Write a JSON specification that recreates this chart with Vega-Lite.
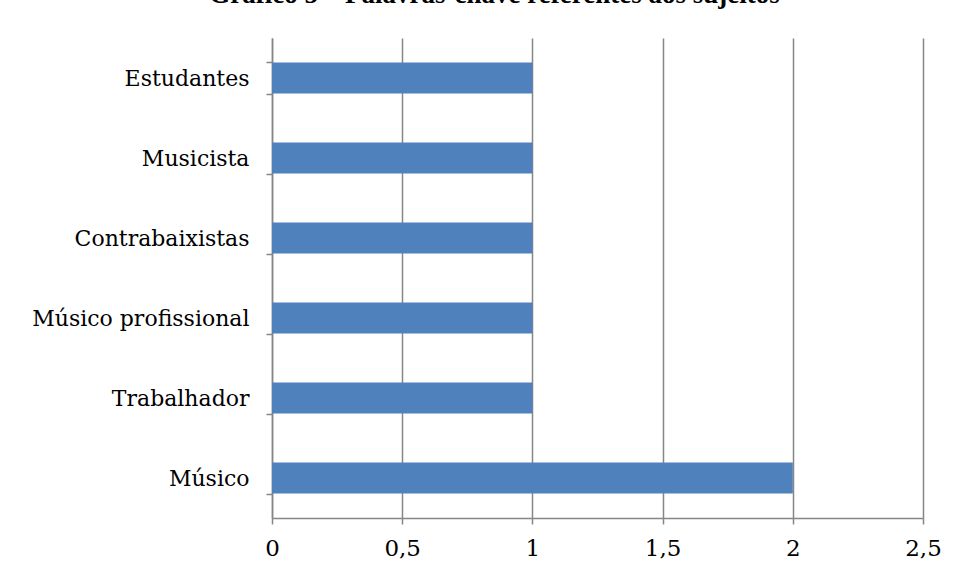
{
  "$schema": "https://vega.github.io/schema/vega-lite/v6.json",
  "autosize": {"type": "none"},
  "padding": {"left": 272, "top": 38, "right": 33, "bottom": 61},
  "width": 651,
  "height": 480,
  "background": "white",
  "title": {
    "text": "Gráfico 5 – Palavras-chave referentes aos sujeitos",
    "font": "Liberation Serif",
    "fontSize": 27,
    "fontWeight": "bold",
    "color": "black",
    "anchor": "middle",
    "baseline": "alphabetic",
    "offset": -3,
    "dx": -103
  },
  "data": {
    "values": [
      {"categoria": "Estudantes", "valor": 1},
      {"categoria": "Musicista", "valor": 1},
      {"categoria": "Contrabaixistas", "valor": 1},
      {"categoria": "Músico profissional", "valor": 1},
      {"categoria": "Trabalhador", "valor": 1},
      {"categoria": "Músico", "valor": 2}
    ]
  },
  "mark": {"type": "bar", "color": "#4F81BD"},
  "encoding": {
    "y": {
      "field": "categoria",
      "type": "nominal",
      "sort": null,
      "title": null,
      "scale": {"paddingInner": 0.61, "paddingOuter": 0.305},
      "axis": {
        "tickBand": "extent",
        "tickSize": 6,
        "tickColor": "#868686",
        "tickWidth": 1.5,
        "domainColor": "#868686",
        "domainWidth": 1.5,
        "labelFont": "DejaVu Serif",
        "labelFontSize": 22,
        "labelColor": "black",
        "labelPadding": 17,
        "labelLimit": 400,
        "grid": false
      }
    },
    "x": {
      "field": "valor",
      "type": "quantitative",
      "title": null,
      "scale": {"domain": [0, 2.5], "nice": false},
      "axis": {
        "values": [0, 0.5, 1, 1.5, 2, 2.5],
        "format": ",.1~f",
        "formatType": "number",
        "labelExpr": "replace(datum.label, '.', ',')",
        "grid": true,
        "gridColor": "#868686",
        "gridWidth": 1.5,
        "tickSize": 6,
        "tickColor": "#868686",
        "tickWidth": 1.5,
        "domainColor": "#868686",
        "domainWidth": 1.5,
        "labelFont": "DejaVu Serif",
        "labelFontSize": 23,
        "labelColor": "black",
        "labelPadding": 13,
        "labelFlush": false
      }
    }
  },
  "config": {
    "view": {"stroke": null}
  }
}
